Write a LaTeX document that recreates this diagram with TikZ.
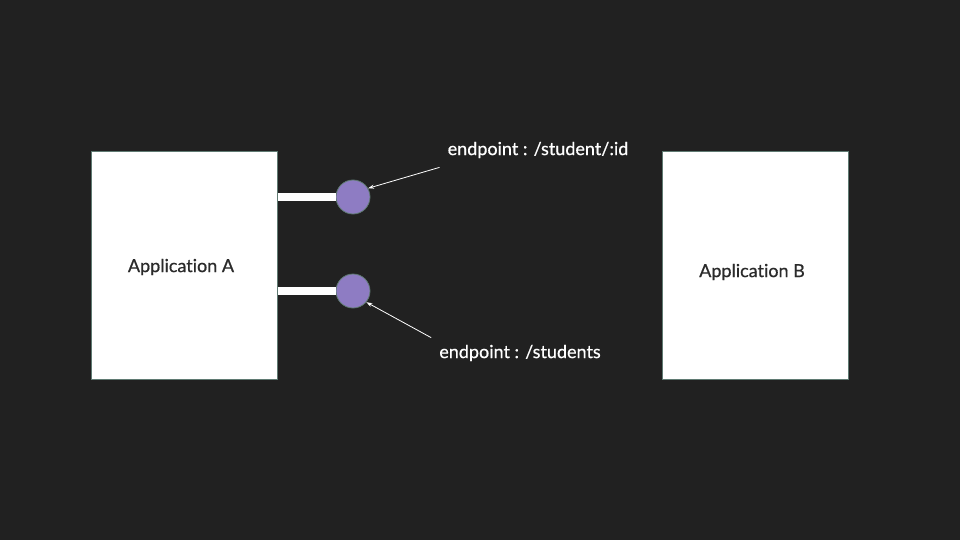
\documentclass[tikz,border=0pt]{standalone}
\usepackage{fontspec}
\setmainfont{Lato}[Ligatures=NoCommon, FakeBold=0.6]
\usepackage{xcolor}
\usetikzlibrary{arrows.meta}
\definecolor{bg}{HTML}{212121}
\definecolor{rim}{HTML}{5F7A72}
\definecolor{purp}{HTML}{8E7CC3}
\definecolor{ink}{HTML}{2B2B2B}
\begin{document}
\begin{tikzpicture}[x=1pt, y=-1pt]
\tikzstyle{app}=[rectangle, draw=rim, fill=white,
                 minimum width=186pt, minimum height=228pt, inner sep=0pt]
\tikzstyle{apptitle}=[text=ink, inner sep=0pt, font=\fontsize{18}{21}\selectfont]
\tikzstyle{port}=[circle, draw=rim, fill=purp, line width=0.8pt,
                  minimum size=34pt, inner sep=0pt]
\tikzstyle{tag}=[text=white, inner sep=0pt, font=\fontsize{18}{21}\selectfont]
\fill[bg] (0,0) rectangle (960,540);
\useasboundingbox (0,0) rectangle (960,540);
\node[app] (appA) at (184.5,265) {};
\node[app] (appB) at (755,265) {};
\node[apptitle] (titleA) at (181,267) {Application A};
\node[apptitle] (titleB) at (752,272) {Application B};
\node[port] (epOne) at (353,197) {};
\node[port] (epTwo) at (353,291) {};
\node[tag] (tagOne) at (538,150) {endpoint : /student/:id};
\node[tag] (tagTwo) at (520,353) {endpoint : /students};
% thick white stubs from A to the endpoints
\draw[white, line width=8pt] (appA.east |- epOne) -- (epOne.west);
\draw[white, line width=8pt] (appA.east |- epTwo) -- (epTwo.west);
% thin pointers from the labels
\draw[white, line width=0.8pt, -{Stealth[length=6pt, width=4pt]}]
  ([xshift=-8pt, yshift=-9pt]tagOne.south west) -- (epOne.30);
\draw[white, line width=0.8pt, -{Stealth[length=6pt, width=4pt]}]
  ([shift={(-8pt,7pt)}]tagTwo.north west) -- (epTwo.-40);
\end{tikzpicture}
\end{document}
